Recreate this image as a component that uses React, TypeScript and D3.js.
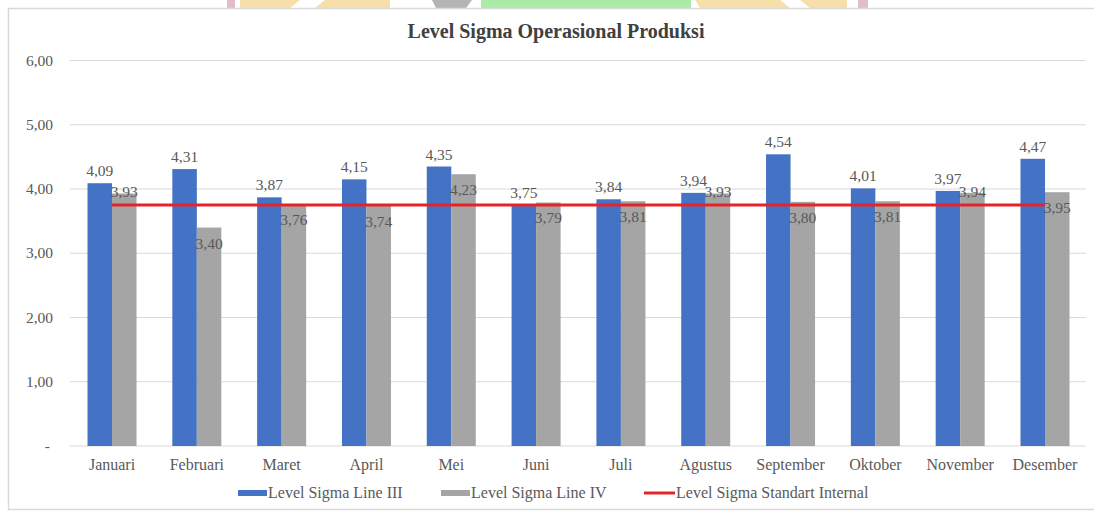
import React from "react";
import * as d3 from "d3";

const months = ["Januari","Februari","Maret","April","Mei","Juni","Juli","Agustus","September","Oktober","November","Desember"];
const lineIII = [4.09,4.31,3.87,4.15,4.35,3.75,3.84,3.94,4.54,4.01,3.97,4.47];
const lineIV = [3.93,3.40,3.76,3.74,4.23,3.79,3.81,3.93,3.80,3.81,3.94,3.95];
const standard = [3.75,3.75,3.75,3.75,3.75,3.75,3.75,3.75,3.75,3.75,3.75,3.75];
const yTicks = [0,1,2,3,4,5,6];
const title = "Level Sigma Operasional Produksi";
const legendNames = ["Level Sigma Line III","Level Sigma Line IV","Level Sigma Standart Internal"];

const W = 1094, H = 512;
const BLUE = "#4472C4", GRAY = "#A5A5A5", RED = "#E3242B", TXT = "#595959", GRID = "#D9D9D9";
const FONT = "'Liberation Serif', 'Times New Roman', serif";

const fmt = (v: number) => v.toFixed(2).replace(".", ",");

export default function App() {
  const x = d3.scaleBand<string>().domain(months).range([69.6, 1087.4]).paddingInner(0).paddingOuter(0);
  const y = d3.scaleLinear().domain([0, 6]).range([446, 60.5]);
  const bw = 24.5;
  const cx = (m: string) => (x(m) as number) + x.bandwidth() / 2;
  const line = d3.line<number>().x((_, i) => cx(months[i])).y((d) => y(d));

  return (
    <svg width={W} height={H} style={{ position: "absolute", left: 0, top: 0 }} fontFamily={FONT}>
      <rect x={0} y={0} width={W} height={H} fill="#fff" />
      {/* watermark fragments at top */}
      <g opacity={0.75}>
        <rect x={227} y={0} width={8} height={8} fill="#D9AAB4" />
        <polygon points="240,0 300,0 290,8 240,8" fill="#F4D58C" />
        <polygon points="325,0 390,0 390,8 315,8" fill="#F4D58C" />
        <polygon points="432,0 472,0 466,8 436,8" fill="#9C9C9C" />
        <polygon points="481,0 691,0 691,8 481,8" fill="#8EE68A" />
        <polygon points="695,0 780,0 790,8 700,8" fill="#F4D58C" />
        <polygon points="800,0 847,0 847,8 810,8" fill="#F4D58C" />
        <rect x={858} y={0} width={10} height={8} fill="#D9AAB4" />
      </g>
      {/* chart border */}
      <rect x={8.5} y={8.5} width={W} height={501} fill="#fff" stroke={GRID} strokeWidth={1.5} />
      <text x={556} y={38} textAnchor="middle" fontSize={20} fontWeight="bold" fill="#404040">{title}</text>
      {/* gridlines & y labels */}
      {yTicks.map((t) => (
        <g key={t}>
          <line x1={70} x2={1086} y1={y(t)} y2={y(t)} stroke={GRID} strokeWidth={1} />
          <text x={t === 0 ? 50 : 53} y={y(t) + 5} textAnchor="end" fontSize={15.5} fill={TXT}>{t === 0 ? "-" : fmt(t)}</text>
        </g>
      ))}
      {/* bars */}
      {months.map((m, i) => (
        <g key={m}>
          <rect x={cx(m) - bw} y={y(lineIII[i])} width={bw} height={y(0) - y(lineIII[i])} fill={BLUE} />
          <rect x={cx(m)} y={y(lineIV[i])} width={bw} height={y(0) - y(lineIV[i])} fill={GRAY} />
        </g>
      ))}
      {/* standard line */}
      <path d={line(standard) || ""} fill="none" stroke={RED} strokeWidth={3} />
      {/* labels */}
      {months.map((m, i) => {
        const diff = lineIV[i] - standard[i];
        const atTop = diff > 0.15 && diff < 0.195;
        const gy = atTop ? y(lineIV[i]) + 4 : y(lineIV[i]) + 21;
        return (
          <g key={"l" + m} fontSize={15.5} fill={TXT}>
            <text x={cx(m) - bw / 2} y={y(lineIII[i]) - 7} textAnchor="middle">{fmt(lineIII[i])}</text>
            <text x={cx(m) + bw / 2} y={gy} textAnchor="middle">{fmt(lineIV[i])}</text>
          </g>
        );
      })}
      {/* x labels */}
      {months.map((m) => (
        <text key={"x" + m} x={cx(m)} y={470} textAnchor="middle" fontSize={16} fill={TXT}>{m}</text>
      ))}
      {/* legend */}
      <g fontSize={16} fill={TXT}>
        <rect x={238} y={490} width={29} height={6} fill={BLUE} />
        <text x={268} y={498}>{legendNames[0]}</text>
        <rect x={441} y={490} width={29} height={6} fill={GRAY} />
        <text x={471} y={498}>{legendNames[1]}</text>
        <line x1={644} x2={675} y1={493} y2={493} stroke={RED} strokeWidth={3} />
        <text x={676} y={498}>{legendNames[2]}</text>
      </g>
    </svg>
  );
}
